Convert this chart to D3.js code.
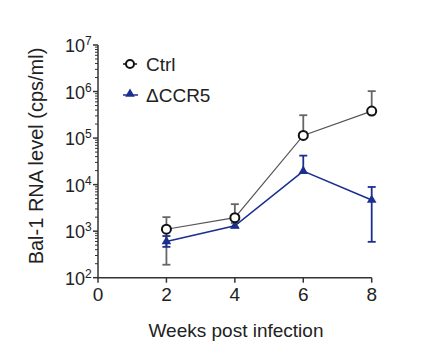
<!DOCTYPE html>
<html lang="en">
<head>
<meta charset="UTF-8">
<title>Bal-1 RNA level</title>
<script src="https://d3js.org/d3.v7.min.js"></script>
<style>
  body { margin: 0; background: #fff; font-family: "Liberation Sans", Arial, sans-serif; }
</style>
</head>
<body>
<div id="chart"></div>
<script>
// data
const weeks = [2, 4, 6, 8];
const ctrlMean = [1100, 1950, 114000, 380000];
const ctrlUp = [2000, 3800, 310000, 1020000];
const ctrlLow = [190, 1500, null, null];
const ccr5Mean = [600, 1300, 19500, 4650];
const ccr5Up = [785, 1740, 42000, 8900];
const ccr5Low = [460, 1200, null, 590];
const xTicks = [0, 2, 4, 6, 8];
const yTicks = [2, 3, 4, 5, 6, 7];

const width = 422, height = 352;
const gray = "#555", blue = "#1b2f8f";

const svg = d3.select("#chart").append("svg")
  .attr("width", width).attr("height", height);

const x = d3.scaleLinear().domain([0, 8]).range([98, 371.7]);
const y = d3.scaleLog().domain([1e2, 1e7]).range([277.7, 45]);

// y axis
const yAxis = svg.append("g");
yAxis.append("line")
  .attr("x1", x(0)).attr("x2", x(0))
  .attr("y1", y(1e7)).attr("y2", y(1e2))
  .attr("stroke", "#333").attr("stroke-width", 1.5);
const minor = [];
for (let e = 2; e < 7; e++) for (let m = 2; m <= 9; m++) minor.push(m * Math.pow(10, e));
yAxis.selectAll(".minor").data(minor).enter().append("line")
  .attr("x1", x(0) - 3).attr("x2", x(0))
  .attr("y1", d => y(d)).attr("y2", d => y(d))
  .attr("stroke", "#333").attr("stroke-width", 1);
yAxis.selectAll(".major").data(yTicks).enter().append("line")
  .attr("x1", x(0) - 5).attr("x2", x(0))
  .attr("y1", d => y(Math.pow(10, d))).attr("y2", d => y(Math.pow(10, d)))
  .attr("stroke", "#333").attr("stroke-width", 1.5);
const yl = yAxis.selectAll(".lab").data(yTicks).enter().append("text")
  .attr("x", 65).attr("y", d => y(Math.pow(10, d)) + 7)
  .attr("font-size", 18).attr("fill", "#222");
yl.append("tspan").text("10");
yl.append("tspan").attr("dy", -7).attr("font-size", 12).text(d => d);

// x axis
const xAxis = svg.append("g");
xAxis.append("line")
  .attr("x1", x(0)).attr("x2", x(8))
  .attr("y1", y(1e2)).attr("y2", y(1e2))
  .attr("stroke", "#333").attr("stroke-width", 1.5);
xAxis.selectAll(".tick").data(xTicks).enter().append("line")
  .attr("x1", d => x(d)).attr("x2", d => x(d))
  .attr("y1", y(1e2)).attr("y2", y(1e2) + 5)
  .attr("stroke", "#333").attr("stroke-width", 1.5);
xAxis.selectAll(".lab").data(xTicks).enter().append("text")
  .attr("x", d => x(d)).attr("y", y(1e2) + 23)
  .attr("text-anchor", "middle").attr("font-size", 19).attr("fill", "#222")
  .text(d => d);

svg.append("text")
  .attr("x", 236).attr("y", 337)
  .attr("text-anchor", "middle").attr("font-size", 19).attr("fill", "#222")
  .text("Weeks post infection");
svg.append("text")
  .attr("transform", "translate(43,156) rotate(-90)")
  .attr("text-anchor", "middle").attr("font-size", 20).attr("fill", "#222")
  .text("Bal-1 RNA level (cps/ml)");

// error bars
function errorBars(mean, up, low, color) {
  const g = svg.append("g").attr("stroke", color).attr("stroke-width", 1.8);
  weeks.forEach((w, i) => {
    [up[i], low[i]].forEach(v => {
      if (v == null) return;
      g.append("line").attr("x1", x(w)).attr("x2", x(w))
        .attr("y1", y(mean[i])).attr("y2", y(v));
      g.append("line").attr("x1", x(w) - 4).attr("x2", x(w) + 4)
        .attr("y1", y(v)).attr("y2", y(v));
    });
  });
}
errorBars(ctrlMean, ctrlUp, ctrlLow, "#666");
errorBars(ccr5Mean, ccr5Up, ccr5Low, blue);

const line = vals => d3.line().x((d, i) => x(weeks[i])).y(d => y(d))(vals);
svg.append("path").attr("d", line(ctrlMean))
  .attr("fill", "none").attr("stroke", gray).attr("stroke-width", 1.2);
svg.append("path").attr("d", line(ccr5Mean))
  .attr("fill", "none").attr("stroke", blue).attr("stroke-width", 1.6);

const tri = d3.symbol().type(d3.symbolTriangle).size(40);
svg.selectAll(".ccr5").data(ccr5Mean).enter().append("path")
  .attr("d", tri)
  .attr("transform", (d, i) => `translate(${x(weeks[i])},${y(d)})`)
  .attr("fill", blue);
svg.selectAll(".ctrl").data(ctrlMean).enter().append("circle")
  .attr("cx", (d, i) => x(weeks[i])).attr("cy", d => y(d))
  .attr("r", 4.5).attr("fill", "#fff").attr("stroke", "#111").attr("stroke-width", 2);

// legend
const leg = svg.append("g");
leg.append("line").attr("x1", 123).attr("x2", 137).attr("y1", 64).attr("y2", 64)
  .attr("stroke", "#111").attr("stroke-width", 1.5);
leg.append("circle").attr("cx", 130).attr("cy", 64).attr("r", 4)
  .attr("fill", "#fff").attr("stroke", "#111").attr("stroke-width", 2);
leg.append("text").attr("x", 146).attr("y", 71).attr("font-size", 19).attr("fill", "#222").text("Ctrl");
leg.append("line").attr("x1", 123).attr("x2", 138).attr("y1", 95).attr("y2", 95)
  .attr("stroke", blue).attr("stroke-width", 1.5);
leg.append("path").attr("d", tri).attr("transform", "translate(130,94)").attr("fill", blue);
leg.append("text").attr("x", 146).attr("y", 102).attr("font-size", 19).attr("fill", "#222").text("ΔCCR5");
</script>
</body>
</html>
